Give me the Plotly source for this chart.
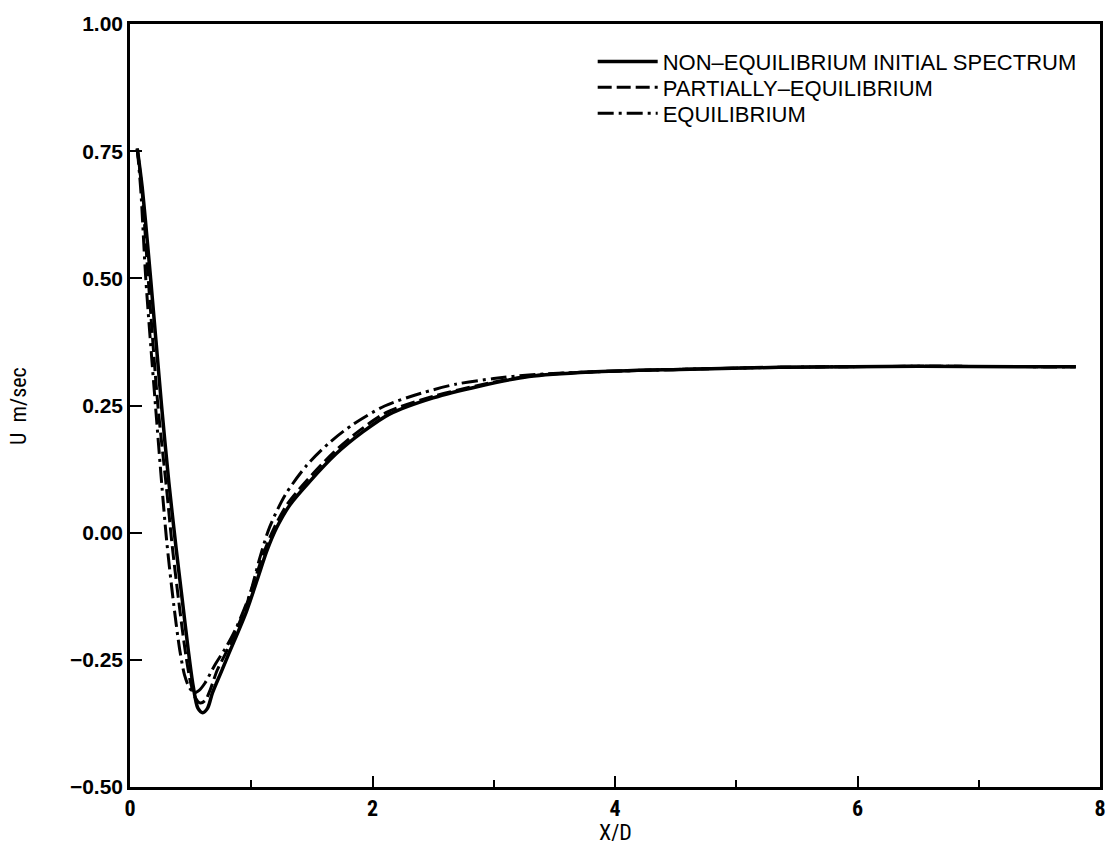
import plotly.graph_objects as go

# --- data ---
x_noneq = [0.06, 0.10, 0.17, 0.26, 0.32, 0.38, 0.43, 0.48, 0.52, 0.56, 0.60, 0.64, 0.68, 0.75, 0.82,
           0.96, 1.05, 1.13, 1.21, 1.32, 1.48, 1.70, 1.92, 2.14, 2.50, 2.88, 3.29, 3.80, 4.53, 5.35, 6.50, 7.80]
u_noneq = [0.755, 0.68, 0.50, 0.25, 0.10, -0.03, -0.13, -0.23, -0.30, -0.345, -0.354, -0.345, -0.315, -0.275, -0.235,
           -0.155, -0.092, -0.035, 0.010, 0.055, 0.100, 0.155, 0.198, 0.233, 0.265, 0.288, 0.307, 0.316, 0.321, 0.325, 0.327, 0.326]

x_partial = [0.06, 0.10, 0.15, 0.23, 0.30, 0.35, 0.41, 0.46, 0.50, 0.54, 0.58, 0.62, 0.66, 0.72, 0.80,
             0.94, 1.03, 1.11, 1.19, 1.30, 1.46, 1.68, 1.90, 2.12, 2.50, 2.88, 3.29, 3.80, 4.53, 5.35, 6.50, 7.80]
u_partial = [0.755, 0.67, 0.50, 0.25, 0.09, -0.03, -0.15, -0.24, -0.295, -0.325, -0.335, -0.330, -0.310, -0.270, -0.232,
             -0.155, -0.092, -0.035, 0.010, 0.057, 0.103, 0.158, 0.202, 0.237, 0.268, 0.290, 0.308, 0.316, 0.321, 0.325, 0.327, 0.326]

x_equil = [0.06, 0.09, 0.13, 0.21, 0.30, 0.36, 0.41, 0.45, 0.49, 0.53, 0.57, 0.62, 0.70, 0.80, 0.88,
           0.99, 1.07, 1.15, 1.28, 1.46, 1.65, 1.84, 2.10, 2.40, 2.69, 3.00, 3.29, 3.80, 4.53, 5.35, 6.50, 7.80]
u_equil = [0.755, 0.67, 0.50, 0.25, -0.01, -0.14, -0.23, -0.28, -0.305, -0.315, -0.310, -0.295, -0.260, -0.222, -0.185,
           -0.120, -0.050, 0.010, 0.074, 0.133, 0.178, 0.213, 0.249, 0.274, 0.292, 0.303, 0.310, 0.316, 0.321, 0.325, 0.327, 0.326]

names = ["NON–EQUILIBRIUM INITIAL SPECTRUM", "PARTIALLY–EQUILIBRIUM", "EQUILIBRIUM"]
x_ticks = [0, 2, 4, 6, 8]
y_ticks = [-0.50, -0.25, 0.00, 0.25, 0.50, 0.75, 1.00]

legfont = dict(family="Liberation Sans, Arial, sans-serif", size=22, color="black")
fig = go.Figure()
fig.add_trace(go.Scatter(x=x_noneq, y=u_noneq, mode="lines", name=names[0], legend="legend",
                         line=dict(color="black", width=3.5, dash="solid", shape="spline", smoothing=0.8)))
fig.add_trace(go.Scatter(x=x_partial, y=u_partial, mode="lines", name=names[1], legend="legend2",
                         line=dict(color="black", width=3, dash="14px,5px", shape="spline", smoothing=0.8)))
fig.add_trace(go.Scatter(x=x_equil, y=u_equil, mode="lines", name=names[2], legend="legend3",
                         line=dict(color="black", width=3, dash="16px,5px,3px,5px", shape="spline", smoothing=0.8)))

tickfont = dict(family="Liberation Sans, Arial, sans-serif", size=21, color="black", weight="bold")
narrow = "Liberation Sans Narrow, Roboto Condensed, Liberation Sans, sans-serif"

def leg(y):
    return dict(x=0.477, y=y, xanchor="left", yanchor="middle", bgcolor="rgba(0,0,0,0)",
                borderwidth=0, font=legfont, itemwidth=60)

fig.update_layout(
    width=1118, height=862,
    margin=dict(l=130, r=15, t=19, b=75),
    paper_bgcolor="white", plot_bgcolor="white",
    showlegend=True,
    legend=leg(0.9505), legend2=leg(0.9167), legend3=leg(0.8828),
    xaxis=dict(range=[0, 8], tickvals=x_ticks, ticktext=[str(v) for v in x_ticks],
               ticks="inside", ticklen=11, tickwidth=2, tickcolor="black",
               minor=dict(dtick=1, ticks="inside", ticklen=7, tickwidth=1.5, tickcolor="black"),
               showline=True, linecolor="black", linewidth=2.5, mirror=True,
               showgrid=False, zeroline=False,
               tickfont=dict(family=narrow, size=22, color="black", weight="bold")),
    yaxis=dict(range=[-0.5, 1.0], tickvals=y_ticks, ticktext=[f"{v:.2f}".replace("-", "−") for v in y_ticks],
               ticks="inside", ticklen=12, tickwidth=2, tickcolor="black",
               showline=True, linecolor="black", linewidth=2.5, mirror=True,
               showgrid=False, zeroline=False, tickfont=tickfont),
    annotations=[
        dict(text="X/D", xref="paper", yref="paper", x=0.5, y=-0.06, xanchor="center", yanchor="middle",
             showarrow=False, font=dict(family=narrow, size=22, color="black")),
        dict(text="U  m/sec", xref="paper", yref="paper", x=-0.115, y=0.5, xanchor="center", yanchor="middle",
             textangle=-90, showarrow=False, font=dict(family=narrow, size=22, color="black")),
    ],
)

fig.write_html("out.html")
